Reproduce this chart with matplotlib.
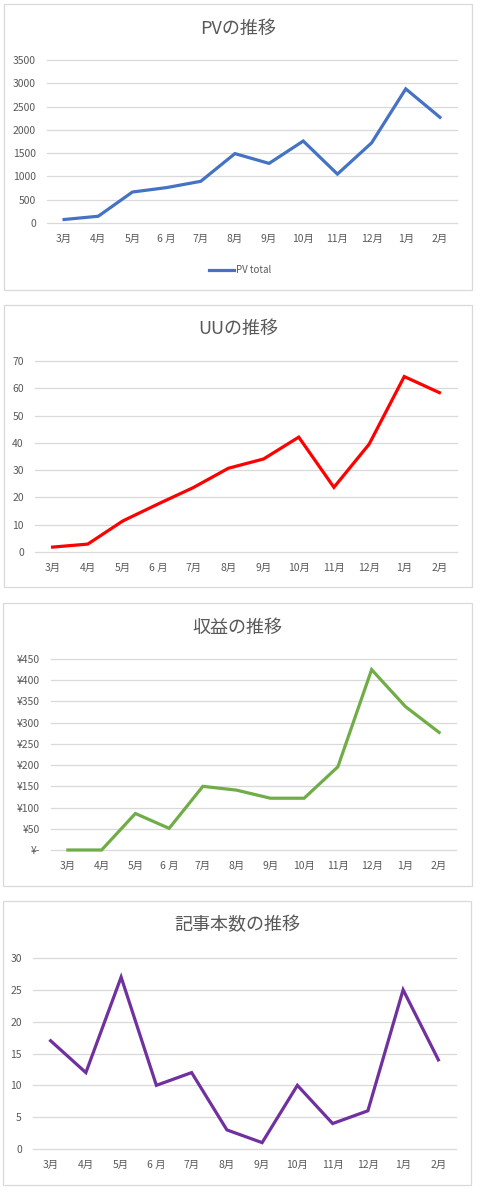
import matplotlib
matplotlib.use("Agg")
import matplotlib.pyplot as plt
from matplotlib.patches import Rectangle

plt.rcParams['font.family'] = ['Noto Sans CJK JP', 'DejaVu Sans']

months = ["3月", "4月", "5月", "6 月", "7月", "8月", "9月", "10月", "11月", "12月", "1月", "2月"]
pv_total = [75, 145, 665, 760, 895, 1490, 1280, 1760, 1050, 1720, 2880, 2270]
uu = [1.8, 2.9, 11.4, 17.6, 23.6, 30.7, 34.1, 42.1, 23.7, 39.5, 64.3, 58.4]
revenue = [0, 0, 86, 51, 150, 141, 122, 122, 196, 425, 338, 277]
articles = [17, 12, 27, 10, 12, 3, 1, 10, 4, 6, 25, 14]

pv_ticks = [0, 500, 1000, 1500, 2000, 2500, 3000, 3500]
uu_ticks = [0, 10, 20, 30, 40, 50, 60, 70]
rev_ticks = [0, 50, 100, 150, 200, 250, 300, 350, 400, 450]
rev_labels = ["¥-", "¥50", "¥100", "¥150", "¥200", "¥250", "¥300", "¥350", "¥400", "¥450"]
art_ticks = [0, 5, 10, 15, 20, 25, 30]

titles = ["PVの推移", "UUの推移", "収益の推移", "記事本数の推移"]

W, H = 480, 1193
fig = plt.figure(figsize=(W / 100, H / 100), dpi=100)

TXT = "#595959"
GRID = "#D9D9D9"

def box(l, t, r, b):
    fig.patches.append(Rectangle((l / W, 1 - b / H), (r - l) / W, (b - t) / H,
                                 transform=fig.transFigure, fill=False,
                                 edgecolor="#D9D9D9", linewidth=0.9))

def panel(l, t, r, b, values, color, ticks, labels, title, title_y, box_rect):
    box(*box_rect)
    ax = fig.add_axes([l / W, 1 - b / H, (r - l) / W, (b - t) / H])
    x = list(range(len(months)))
    line, = ax.plot(x, values, color=color, linewidth=2.3, solid_joinstyle='miter',
                    clip_on=False, zorder=3)
    ax.set_xlim(-0.5, len(months) - 0.5)
    ax.set_ylim(ticks[0], ticks[-1])
    ax.set_yticks(ticks)
    ax.set_yticklabels(labels if labels else [str(t) for t in ticks])
    ax.set_xticks(x)
    ax.set_xticklabels(months)
    for s in ax.spines.values():
        s.set_visible(False)
    ax.grid(axis='y', color=GRID, linewidth=0.9)
    for gl in ax.get_ygridlines():
        gl.set_clip_on(False)
    ax.set_axisbelow(True)
    ax.tick_params(axis='both', length=0, labelsize=7.5, colors=TXT)
    ax.tick_params(axis='y', pad=8)
    ax.tick_params(axis='x', pad=8)
    ax.patch.set_alpha(0)
    cx = (box_rect[0] + box_rect[2]) / 2
    fig.text(cx / W, 1 - title_y / H, title, ha='center', va='center',
             fontsize=13, color=TXT)
    return ax, line

ax1, l1 = panel(47, 60, 457, 223, pv_total, "#4472C4", pv_ticks, None, titles[0], 29, (4, 4, 472, 290))
leg = ax1.legend([l1], ["PV total"], loc='center', bbox_to_anchor=(240 / W, 1 - 270 / H),
                 bbox_transform=fig.transFigure, frameon=False, fontsize=7,
                 handlelength=2.6, handletextpad=0.2, labelcolor=TXT)
panel(35, 361, 457, 552, uu, "#FF0000", uu_ticks, None, titles[1], 329, (4, 305, 472, 587))
panel(51, 659, 456, 850, revenue, "#70AD47", rev_ticks, rev_labels, titles[2], 628, (3, 603, 472, 886))
panel(33, 958, 456, 1149, articles, "#7030A0", art_ticks, None, titles[3], 925, (3, 901, 471, 1185))

fig.savefig("out.png", dpi=100, facecolor="white")
